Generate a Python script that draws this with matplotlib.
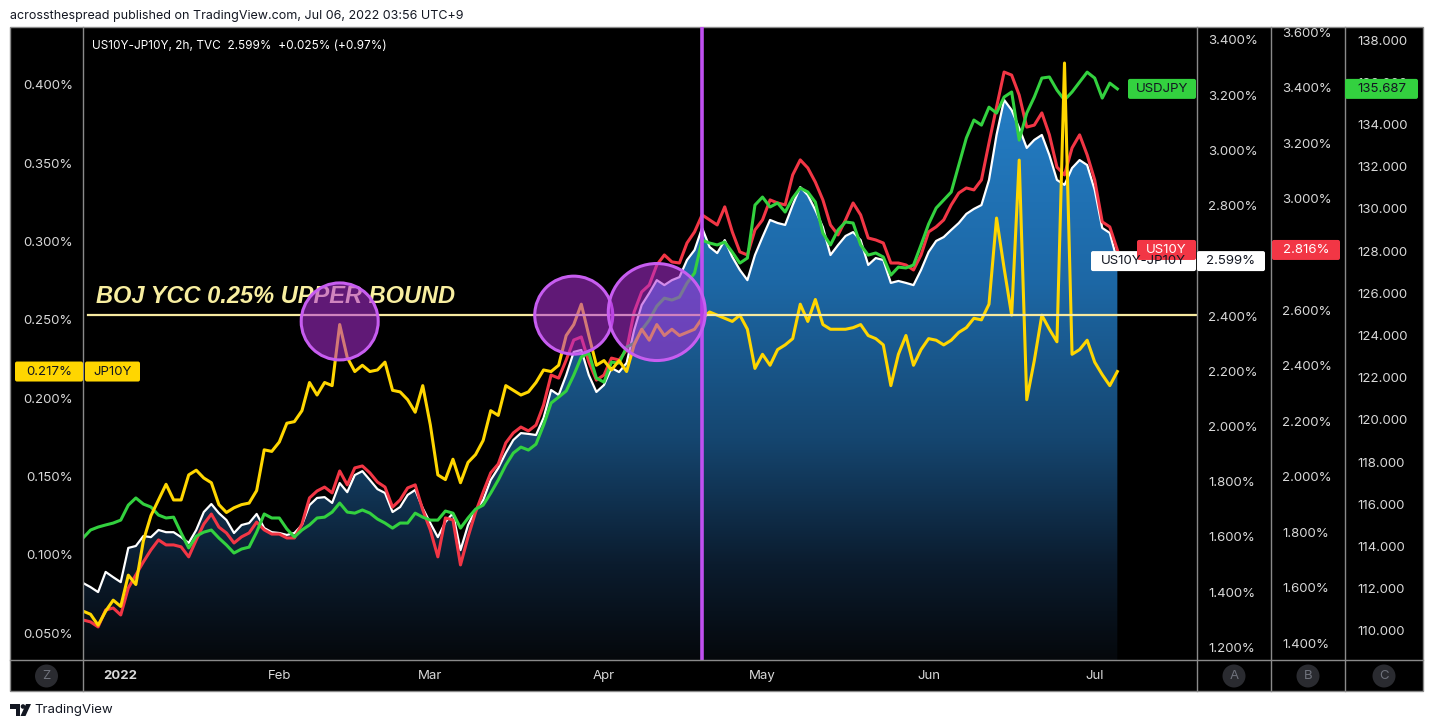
import numpy as np
import pandas as pd
import matplotlib
matplotlib.use("Agg")
import matplotlib.pyplot as plt
from matplotlib.colors import LinearSegmentedColormap
from matplotlib.lines import Line2D
from matplotlib.patches import Circle, FancyBboxPatch, Polygon, Rectangle
from matplotlib.transforms import Affine2D, IdentityTransform, ScaledTranslation

plt.rcParams['font.family'] = ['Inter', 'DejaVu Sans']

# TVC 2h series, one reading per trading day off the published chart
dates = pd.bdate_range('2021-12-27', periods=138)

jp10y = [0.064, 0.062, 0.055, 0.064, 0.071, 0.067, 0.087, 0.081, 0.109, 0.125,
         0.135, 0.145, 0.135, 0.135, 0.151, 0.154, 0.149, 0.146, 0.132, 0.127,
         0.130, 0.132, 0.133, 0.141, 0.167, 0.166, 0.172, 0.184, 0.185, 0.192,
         0.210, 0.202, 0.210, 0.208, 0.247, 0.226, 0.217, 0.221, 0.217, 0.218,
         0.223, 0.205, 0.204, 0.199, 0.191, 0.208, 0.183, 0.151, 0.148, 0.161,
         0.146, 0.159, 0.164, 0.173, 0.192, 0.189, 0.208, 0.205, 0.202, 0.204,
         0.210, 0.218, 0.217, 0.221, 0.240, 0.247, 0.260, 0.240, 0.221, 0.224,
         0.218, 0.224, 0.217, 0.234, 0.244, 0.237, 0.247, 0.240, 0.244, 0.240,
         0.242, 0.244, 0.251, 0.255, 0.253, 0.251, 0.249, 0.253, 0.244, 0.219,
         0.228, 0.221, 0.231, 0.234, 0.238, 0.260, 0.249, 0.263, 0.247, 0.244,
         0.244, 0.244, 0.245, 0.247, 0.240, 0.238, 0.234, 0.208, 0.228, 0.240,
         0.221, 0.231, 0.238, 0.237, 0.234, 0.237, 0.242, 0.245, 0.251, 0.250,
         0.260, 0.315, 0.283, 0.253, 0.352, 0.199, 0.224, 0.253, 0.244, 0.236,
         0.414, 0.228, 0.231, 0.237, 0.223, 0.215, 0.208, 0.217]

us10y = [1.485, 1.478, 1.460, 1.521, 1.528, 1.503, 1.600, 1.647, 1.694, 1.737,
         1.773, 1.755, 1.755, 1.748, 1.712, 1.773, 1.830, 1.866, 1.819, 1.798,
         1.762, 1.784, 1.798, 1.837, 1.809, 1.794, 1.794, 1.780, 1.780, 1.830,
         1.924, 1.949, 1.963, 1.942, 2.021, 1.971, 2.032, 2.039, 2.014, 1.981,
         1.963, 1.891, 1.917, 1.960, 1.971, 1.881, 1.809, 1.712, 1.852, 1.845,
         1.683, 1.784, 1.873, 1.945, 2.014, 2.046, 2.122, 2.158, 2.179, 2.165,
         2.186, 2.258, 2.366, 2.355, 2.420, 2.492, 2.503, 2.413, 2.348, 2.366,
         2.427, 2.420, 2.456, 2.593, 2.665, 2.690, 2.762, 2.798, 2.773, 2.769,
         2.841, 2.881, 2.942, 2.924, 2.906, 2.971, 2.881, 2.809, 2.798, 2.888,
         2.924, 2.996, 2.985, 2.978, 3.086, 3.140, 3.111, 3.060, 2.996, 2.906,
         2.870, 2.924, 2.985, 2.942, 2.859, 2.852, 2.841, 2.769, 2.769, 2.762,
         2.744, 2.798, 2.881, 2.899, 2.924, 2.978, 3.021, 3.039, 3.032, 3.068,
         3.201, 3.330, 3.456, 3.445, 3.373, 3.258, 3.265, 3.309, 3.230, 3.114,
         3.086, 3.183, 3.230, 3.158, 3.068, 2.917, 2.899, 2.816]

spread = [1.433, 1.418, 1.400, 1.473, 1.454, 1.436, 1.560, 1.567, 1.603, 1.599,
          1.625, 1.617, 1.617, 1.599, 1.578, 1.625, 1.690, 1.719, 1.686, 1.661,
          1.614, 1.643, 1.650, 1.683, 1.632, 1.617, 1.614, 1.607, 1.614, 1.643,
          1.715, 1.741, 1.744, 1.723, 1.795, 1.762, 1.824, 1.838, 1.806, 1.773,
          1.759, 1.690, 1.708, 1.752, 1.770, 1.704, 1.650, 1.599, 1.654, 1.686,
          1.552, 1.643, 1.697, 1.733, 1.806, 1.849, 1.904, 1.951, 1.976, 1.973,
          1.969, 2.031, 2.132, 2.114, 2.186, 2.270, 2.277, 2.186, 2.125, 2.150,
          2.212, 2.197, 2.230, 2.349, 2.440, 2.483, 2.530, 2.512, 2.530, 2.541,
          2.603, 2.639, 2.719, 2.650, 2.628, 2.675, 2.614, 2.567, 2.530, 2.621,
          2.686, 2.748, 2.737, 2.730, 2.802, 2.867, 2.838, 2.784, 2.722, 2.621,
          2.657, 2.690, 2.704, 2.675, 2.585, 2.610, 2.603, 2.520, 2.527, 2.520,
          2.512, 2.567, 2.632, 2.672, 2.686, 2.712, 2.737, 2.770, 2.788, 2.802,
          2.893, 3.056, 3.183, 3.146, 3.081, 3.009, 3.038, 3.056, 2.983, 2.893,
          2.875, 2.936, 2.965, 2.947, 2.857, 2.719, 2.701, 2.599]

usdjpy = [114.40, 114.78, 114.92, 115.02, 115.11, 115.25, 115.96, 116.30, 116.01, 115.87,
          115.49, 115.35, 115.39, 114.64, 113.93, 114.49, 114.68, 114.78, 114.40, 114.07,
          113.69, 113.88, 113.97, 114.68, 115.54, 115.35, 115.35, 114.83, 114.45, 114.78,
          115.02, 115.35, 115.39, 115.63, 116.06, 115.63, 115.58, 115.73, 115.58, 115.30,
          115.11, 114.87, 115.11, 115.11, 115.58, 115.39, 115.25, 115.25, 115.68, 115.58,
          114.87, 115.35, 115.77, 115.96, 116.53, 117.15, 117.86, 118.43, 118.71, 118.57,
          118.85, 119.75, 120.80, 121.08, 121.37, 122.12, 122.98, 123.17, 121.98, 121.79,
          122.74, 122.69, 123.45, 123.64, 124.26, 124.73, 125.39, 125.77, 125.68, 125.82,
          126.48, 126.96, 128.52, 128.38, 128.29, 128.43, 127.95, 127.43, 127.67, 130.18,
          130.56, 130.09, 130.28, 129.85, 130.51, 130.99, 130.80, 130.32, 128.85, 128.29,
          129.00, 129.38, 129.33, 128.29, 127.81, 127.91, 127.72, 126.86, 127.24, 127.20,
          127.34, 128.29, 129.28, 130.04, 130.42, 130.80, 132.08, 133.36, 134.21, 133.97,
          134.82, 134.54, 135.30, 135.54, 133.26, 134.54, 135.30, 136.20, 136.25, 135.63,
          135.16, 135.54, 136.01, 136.48, 136.20, 135.25, 135.96, 135.687]

# scale ticks (the ones under the last-value tags are hidden, as on TradingView)
jp_ticks = [0.05, 0.10, 0.15, 0.20, 0.25, 0.30, 0.35, 0.40]
spread_ticks = [1.2, 1.4, 1.6, 1.8, 2.0, 2.2, 2.4, 2.8, 3.0, 3.2, 3.4]
us_ticks = [1.4, 1.6, 1.8, 2.0, 2.2, 2.4, 2.6, 3.0, 3.2, 3.4, 3.6]
jpy_ticks = list(range(110, 139, 2))

ycc_level = 0.253
ycc_text = 'BOJ YCC 0.25% UPPER BOUND'
event_day = '2022-04-20'
# circled touches of the cap: (day, JP10Y level, radius px)
touches = [('2022-02-11', 0.249, 38.5), ('2022-03-28', 0.253, 39), ('2022-04-12', 0.255, 48.5)]

W, H = 1433, 727
TXT = '#d9d9d9'
YEL, RED, GRN = '#ffd600', '#f23645', '#33d13f'
SEP = '#8a8a8a'

fig = plt.figure(figsize=(W / 100, H / 100), dpi=100, facecolor='white')


def fx(px):
    return px / W


def fy(py):
    return 1 - py / H


# black chart panel
fig.add_artist(Rectangle((fx(10), fy(691)), (1423 - 10) / W, (691 - 27) / H,
                         transform=fig.transFigure, facecolor='black',
                         edgecolor=SEP, lw=1, zorder=-1))

ax = fig.add_axes([fx(83), fy(660), (1197 - 83) / W, (660 - 27) / H])
axA = ax.twinx()
axB = ax.twinx()
axC = ax.twinx()
for k, a in enumerate([axA, axB, axC]):
    a.set_zorder(k + 1)
ax.set_zorder(4)
ax.patch.set_visible(False)

x = np.arange(len(dates))

# spread area with vertical gradient
lo_a, hi_a = 1.154, 3.447
cmap = LinearSegmentedColormap.from_list('area', [
    (0.0, '#05080c'), (0.15, '#0b1c2e'), (0.35, '#154670'),
    (0.6, '#1d68a6'), (0.85, '#237ac0'), (1.0, '#2680c8')])
grad = np.linspace(0, 1, 256).reshape(-1, 1)
im = axA.imshow(grad, aspect='auto', cmap=cmap, origin='lower',
                extent=[x[0], x[-1], lo_a, hi_a], zorder=1)
poly = axA.fill_between(x, spread, lo_a, facecolor='none', edgecolor='none')
im.set_clip_path(poly.get_paths()[0], transform=axA.transData)
axA.plot(x, spread, color='white', lw=1.6, zorder=3)

axB.plot(x, us10y, color=RED, lw=2.2)
axC.plot(x, usdjpy, color=GRN, lw=2.2)
ax.plot(x, jp10y, color=YEL, lw=2.2, zorder=3)

# annotations drawn on the chart
ax.axhline(ycc_level, xmin=5 / 1114, xmax=1, color='#f7eaa0', lw=1.6, zorder=4)
ax.text(1.7, 0.2646, ycc_text, color='#f8eea0', fontsize=17,
        fontweight='bold', fontstyle='italic', family=['Liberation Sans', 'DejaVu Sans'],
        va='center', ha='left', zorder=6)
ax.axvline(dates.get_loc(pd.Timestamp(event_day)), color='#c050f0', lw=2.6, zorder=5)
for day, lvl, r in touches:
    tr = Affine2D().scale(r) + ScaledTranslation(dates.get_loc(pd.Timestamp(day)), lvl, ax.transData)
    ax.add_artist(Circle((0, 0), 1, transform=tr, facecolor=(0.69, 0.18, 0.85, 0.55),
                         edgecolor='#c75df0', lw=2.2, zorder=7))

ax.text(1.2, 0.425, f'US10Y-JP10Y, 2h, TVC  {spread[-1]:.3f}%  +0.025% (+0.97%)',
        color='white', fontsize=8.5, va='center', ha='left', zorder=8)

# scales
ax.set_ylim(0.0328, 0.437)
axA.set_ylim(lo_a, hi_a)
axB.set_ylim(1.341, 3.618)
axC.set_ylim(108.62, 138.62)
ax.set_xlim(0, 147.55)

ax.set_yticks(jp_ticks, [f'{v:.3f}%' for v in jp_ticks])
axA.set_yticks(spread_ticks, [f'{v:.3f}%' for v in spread_ticks])
axB.set_yticks(us_ticks, [f'{v:.3f}%' for v in us_ticks])
axC.set_yticks(jpy_ticks, [f'{v:.3f}' for v in jpy_ticks])
ax.tick_params(axis='y', length=0, pad=7.2, labelsize=9.5, labelcolor=TXT)
axA.tick_params(axis='y', length=0, pad=7.9, labelsize=9.5, labelcolor=TXT)
axB.tick_params(axis='y', length=0, pad=61.2, labelsize=9.5, labelcolor=TXT)
axC.tick_params(axis='y', length=0, pad=115.2, labelsize=9.5, labelcolor=TXT)

starts = [i for i in range(1, len(dates)) if dates[i].month != dates[i - 1].month]
labels = ['2022' if dates[i].month == 1 else dates[i].strftime('%b') for i in starts]
ax.set_xticks(starts, labels)
ax.tick_params(axis='x', length=0, pad=7.2, labelsize=9.5, labelcolor=TXT)
for t in ax.get_xticklabels():
    if t.get_text() == '2022':
        t.set_fontweight('bold')

for a in [ax, axA, axB, axC]:
    for s in a.spines.values():
        s.set_visible(False)

# panel separators
for xs in [83, 1197, 1271, 1345]:
    fig.add_artist(Line2D([fx(xs), fx(xs)], [fy(27), fy(691)], transform=fig.transFigure,
                          color=SEP, lw=1, zorder=6))
fig.add_artist(Line2D([fx(10), fx(1423)], [fy(660), fy(660)], transform=fig.transFigure,
                      color=SEP, lw=1, zorder=6))

# scale buttons
for cx, letter in [(46.5, 'Z'), (1234, 'A'), (1308, 'B'), (1384, 'C')]:
    fig.add_artist(Circle((cx, H - 676), 11.5, transform=IdentityTransform(),
                          facecolor='#2a2b30', edgecolor='none', zorder=7))
    fig.text(fx(cx), fy(676), letter, color='#6f727c', fontsize=9.5,
             ha='center', va='center', zorder=8)


# last-value tags
def tag(x0, x1, yc, text, fc, tc):
    fig.add_artist(FancyBboxPatch((x0, yc - 10), x1 - x0, 20,
                                  boxstyle='round,pad=0,rounding_size=2',
                                  transform=IdentityTransform(), facecolor=fc,
                                  edgecolor='none', zorder=9))
    fig.text(fx((x0 + x1) / 2), yc / H, text, color=tc, fontsize=9.5,
             ha='center', va='center', zorder=10)


y_jp = ax.transData.transform((0, jp10y[-1]))[1]
y_sp = axA.transData.transform((0, spread[-1]))[1]
y_us = axB.transData.transform((0, us10y[-1]))[1]
y_fx = axC.transData.transform((0, usdjpy[-1]))[1]

tag(15, 83, y_jp, f'{jp10y[-1]:.3f}%', YEL, '#131722')
tag(85, 140, y_jp, 'JP10Y', YEL, '#131722')
tag(1128, 1196, y_fx, 'USDJPY', GRN, '#131722')
tag(1345, 1418, y_fx, f'{usdjpy[-1]:.3f}', GRN, '#131722')
tag(1091, 1196, y_sp, 'US10Y-JP10Y', 'white', '#131722')
tag(1197, 1265, y_sp, f'{spread[-1]:.3f}%', 'white', '#131722')
tag(1137, 1196, y_us, 'US10Y', RED, 'white')
tag(1272, 1340, y_us, f'{us10y[-1]:.3f}%', RED, 'white')

# header and footer
fig.text(fx(10), fy(16), 'acrossthespread published on TradingView.com, Jul 06, 2022 03:56 UTC+9',
         color='#131722', fontsize=9, ha='left', va='center')
fig.add_artist(Polygon([(10, H - 704), (20, H - 704), (20, H - 716), (15.5, H - 716),
                        (15.5, H - 708.5), (10, H - 708.5)], closed=True,
                       transform=IdentityTransform(), facecolor='#131722', edgecolor='none'))
fig.add_artist(Circle((23, H - 706.5), 2.3, transform=IdentityTransform(),
                      facecolor='#131722', edgecolor='none'))
fig.add_artist(Polygon([(26, H - 704), (31, H - 704), (25.5, H - 716), (20.5, H - 716)], closed=True,
                       transform=IdentityTransform(), facecolor='#131722', edgecolor='none'))
fig.text(fx(34), fy(710), 'TradingView', color='#131722', fontsize=9.5, ha='left', va='center')

fig.savefig('out.png', dpi=100, facecolor='white')
